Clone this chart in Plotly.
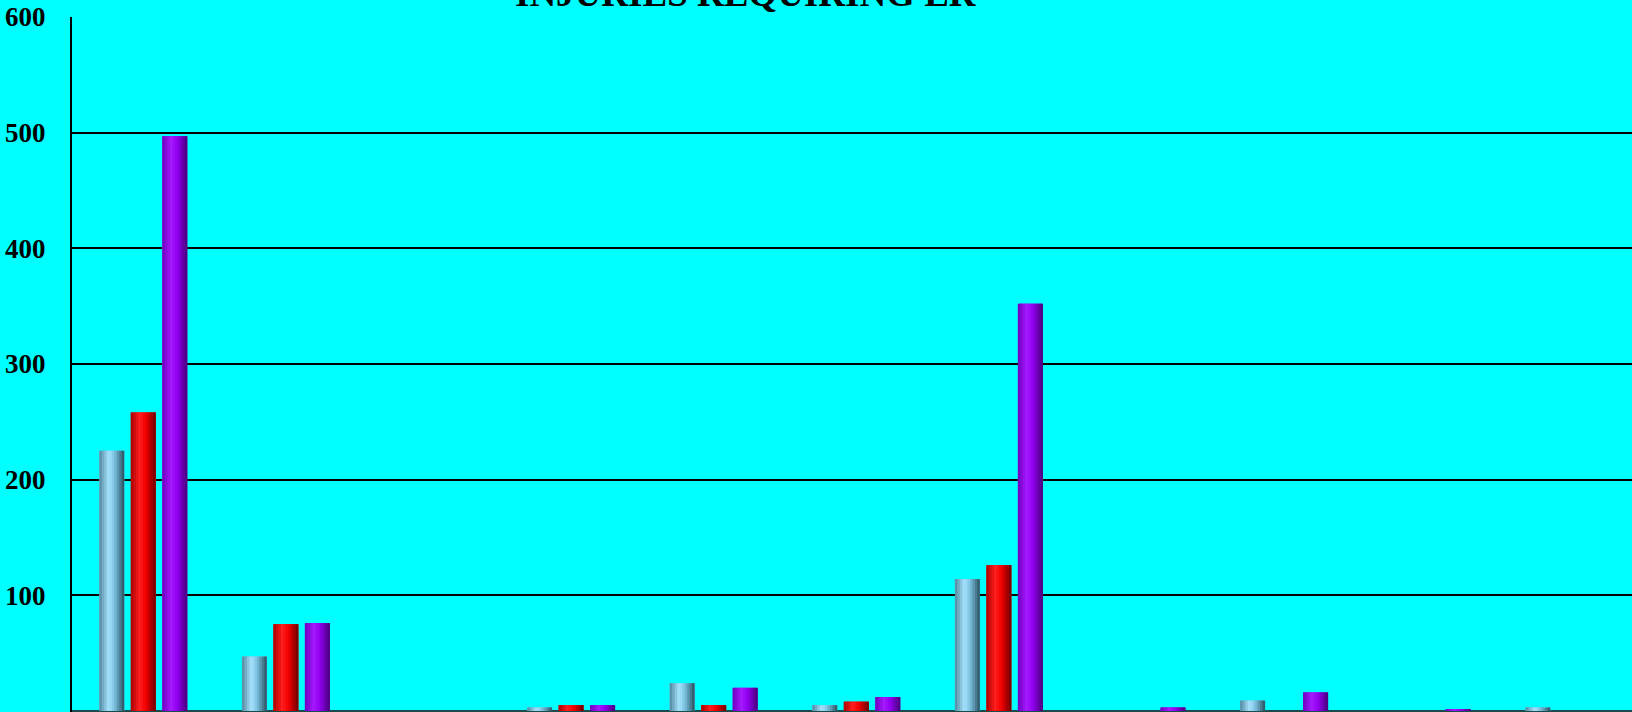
import plotly.graph_objects as go

# ---- data ----
categories = ["C1", "C2", "C3", "C4", "C5", "C6", "C7", "C8", "C9", "C10", "C11"]
series_names = ["Series A", "Series B", "Series C"]
values_a = [225, 47, 0, 3, 24, 5, 114, 0, 9, 0, 3]
values_b = [258, 75, 0, 5, 5, 8, 126, 0, 0, 0, 0]
values_c = [497, 76, 0, 5, 20, 12, 352, 3, 16, 1, 0]
y_ticks = [0, 100, 200, 300, 400, 500, 600]
title_text = "INJURIES REQUIRING ER"

series_values = [values_a, values_b, values_c]
# shading palettes: (t, colour) stops across the bar width
palettes = [
    [(0.0, (80, 135, 158)), (0.38, (168, 228, 255)), (0.62, (120, 190, 220)), (1.0, (40, 80, 95))],
    [(0.0, (170, 0, 0)), (0.35, (255, 30, 30)), (0.6, (245, 0, 0)), (1.0, (105, 0, 0))],
    [(0.0, (110, 0, 190)), (0.35, (165, 25, 255)), (0.6, (145, 0, 240)), (1.0, (70, 0, 120))],
]


def interp(stops, t):
    for (t0, c0), (t1, c1) in zip(stops, stops[1:]):
        if t0 <= t <= t1:
            f = (t - t0) / (t1 - t0)
            return "rgb(%d,%d,%d)" % tuple(round(a + (b - a) * f) for a, b in zip(c0, c1))
    return "rgb(%d,%d,%d)" % stops[-1][1]


cat_px = 142.6
bar_w = 25 / cat_px
step = 31.5 / cat_px
n_bands = 10

fig = go.Figure()
for i, (vals, pal) in enumerate(zip(series_values, palettes)):
    left = (i - 1) * step - bar_w / 2
    bw = bar_w / n_bands
    # base bar
    fig.add_trace(go.Bar(
        x=categories, y=vals, name=series_names[i],
        width=bar_w, offset=left,
        marker=dict(color=interp(pal, 0.6), line=dict(width=0)),
        showlegend=False, hoverinfo="y+name",
    ))
    for k in range(n_bands):
        t = (k + 0.5) / n_bands
        w = bw * (1.6 if k < n_bands - 1 else 1.0)
        fig.add_trace(go.Bar(
            x=categories, y=vals, name=series_names[i],
            width=w, offset=left + k * bw,
            marker=dict(color=interp(pal, t), line=dict(width=0)),
            showlegend=False, hoverinfo="skip",
        ))

fig.update_layout(
    width=1632, height=712,
    barmode="overlay",
    paper_bgcolor="#00FFFF", plot_bgcolor="#00FFFF",
    margin=dict(l=72, r=0, t=17, b=0),
    font=dict(family="Liberation Serif", color="black"),
    showlegend=False,
    annotations=[dict(
        text=title_text, xref="paper", yref="paper", x=(745.5 - 72) / 1560, y=1,
        xanchor="center", yanchor="bottom", yshift=1, showarrow=False,
        font=dict(family="Liberation Serif", size=37, color="black", weight="bold"),
    )],
)
fig.update_xaxes(
    type="category", range=[-0.5, (1632 - 72) / cat_px - 0.5],
    showticklabels=False, showgrid=False, zeroline=False, ticks="",
    showline=False,
)
fig.update_yaxes(
    range=[-0.9, 600], tickvals=y_ticks, ticktext=[str(v) for v in y_ticks],
    showgrid=True, gridcolor="black", gridwidth=2,
    zeroline=True, zerolinecolor="#1a4a4a", zerolinewidth=2,
    showline=True, linecolor="black", linewidth=2,
    ticks="", ticklabelstandoff=19,
    tickfont=dict(family="Liberation Serif", size=27, color="black", weight="bold"),
)

fig.write_html(
    "out.html",
    config={"displayModeBar": False},
    post_script="document.body.style.margin='0';document.body.style.background='#00FFFF';",
)
